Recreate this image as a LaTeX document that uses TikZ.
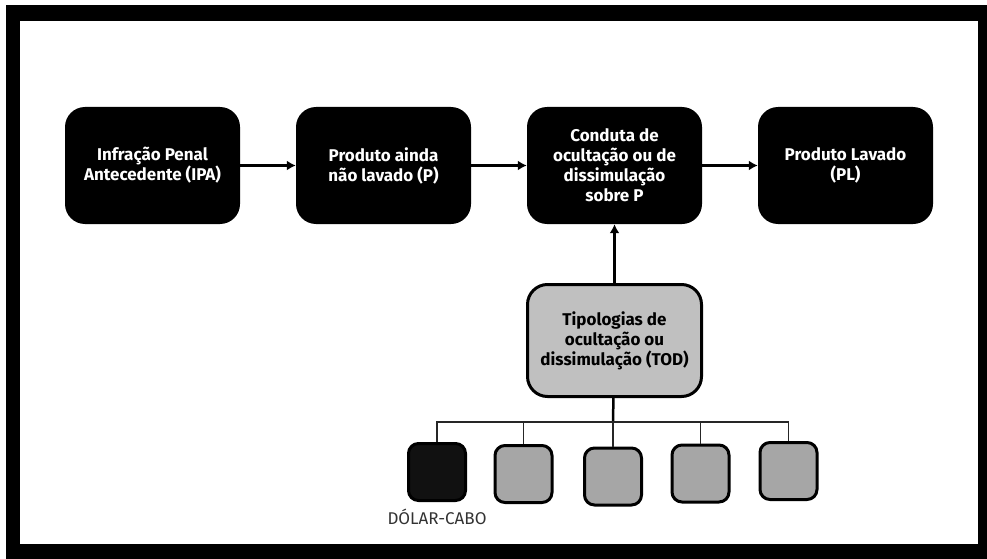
\documentclass[tikz,border=0pt]{standalone}
\usepackage{fontspec}
\setmainfont{Fira Sans}
\usetikzlibrary{positioning,arrows.meta}

\definecolor{cinzaclaro}{RGB}{192,192,192}
\definecolor{cinza}{RGB}{166,166,166}
\definecolor{quasepreto}{RGB}{17,17,17}

\begin{document}
\begin{tikzpicture}[x=1pt,y=-1pt,node distance=231pt,on grid,
 etapa/.style={rectangle,rounded corners=20pt,fill=black,text=white,
   minimum width=175pt,minimum height=117pt,align=center,
   font=\bfseries\fontsize{17}{20}\selectfont},
 tipologia/.style={etapa,fill=cinzaclaro,draw=black,line width=3pt,text=black,
   minimum width=174pt,minimum height=112pt},
 caixa/.style={rectangle,rounded corners=10pt,draw=black,line width=3pt,
   fill=cinza,minimum width=57pt,minimum height=57pt},
 rotulo/.style={text=black!80,font=\fontsize{17}{18}\selectfont},
 seta/.style={-{Latex[length=9pt,width=10pt]},line width=3pt},
 ramo/.style={line width=1.3pt,draw=black!85}]
 \useasboundingbox (0,0) rectangle (987,559);
 % moldura
 \fill (6,5) rectangle (987,559);
 \fill[white] (20,21) rectangle (978,544);

 \node[etapa] (IPA) at (152.5,165.5) {Infração Penal\\Antecedente (IPA)};
 \node[etapa] (P) [right=of IPA] {Produto ainda\\não lavado (P)};
 \node[etapa] (C) [right=of P] {Conduta de\\ocultação ou de\\dissimulação\\sobre P};
 \node[etapa] (PL) [right=of C] {Produto Lavado\\(PL)};
 \node[tipologia] (TOD) [below=175pt of C] {Tipologias de\\ocultação ou\\dissimulação (TOD)};

 % tipologias
 \node[caixa,fill=quasepreto] (T1) at (437,472) {};
 \node[caixa] (T2) at (523.5,474) {};
 \node[caixa] (T3) at (613,476.5) {};
 \node[caixa] (T4) at (700.5,473.5) {};
 \node[caixa] (T5) at (788.5,471) {};
 \node[rotulo] (dolar) [below=45pt of T1] {DÓLAR-CABO};

 \coordinate (juncao) at (613,422);

 \draw[seta] (IPA) -- (P);
 \draw[seta] (P) -- (C);
 \draw[seta] (C) -- (PL);
 \draw[seta] (TOD) -- (C);

 \draw[line width=2.5pt] (TOD) -- (juncao);
 \foreach \t in {T1,T2,T3,T4,T5}
   \draw[ramo] (\t.north) |- (juncao);

\end{tikzpicture}
\end{document}
